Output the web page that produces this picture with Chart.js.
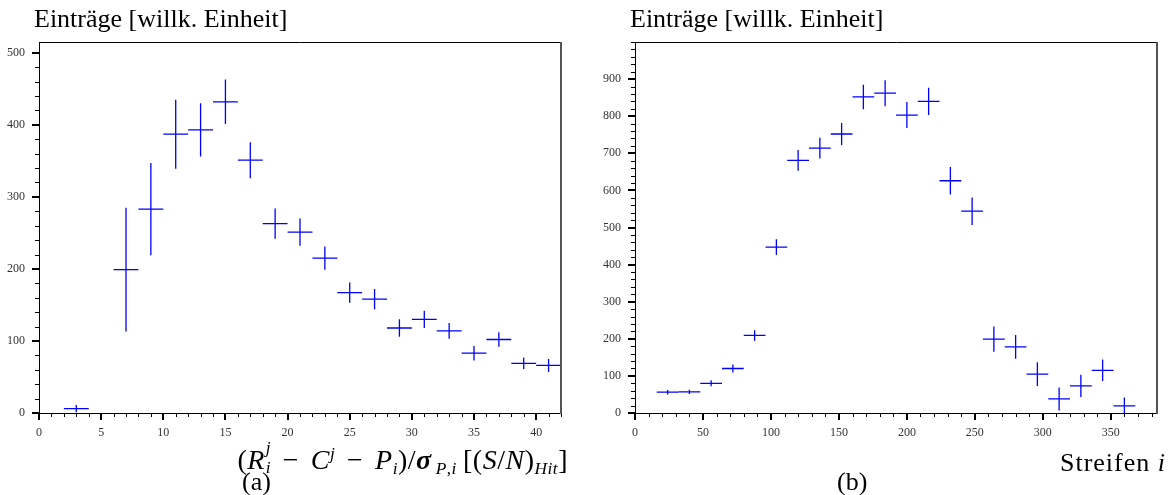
<!DOCTYPE html>
<html lang="de">
<head>
<meta charset="utf-8">
<title>Einträge [willk. Einheit]</title>
<script src="https://cdn.jsdelivr.net/npm/chart.js@4.4.1/dist/chart.umd.min.js"></script>
<style>
  html, body { margin: 0; padding: 0; background: #fff; }
  body {
    width: 1171px; height: 495px; position: relative; overflow: hidden;
    font-family: 'Liberation Serif', 'DejaVu Serif', serif; color: #000;
  }
  canvas { position: absolute; top: 0; }
  #chartA { left: 0; }
  #chartB { left: 590px; }
  .txt { position: absolute; font-size: 26px; line-height: 26px; white-space: nowrap; }
  .math { font-size: 28px; line-height: 28px; letter-spacing: 0.5px; }
  .txt sub, .txt sup { font-size: 62%; line-height: 0; position: relative; vertical-align: baseline; }
  .txt sup { top: -0.6em; }
  .txt sub { top: 0.3em; }
  .ss { display: inline-block; position: relative; width: 0.35em; height: 1em; vertical-align: baseline; font-size: 62%; font-style: italic; }
  .ss span { position: absolute; left: 0.05em; line-height: 1; }
  .ss .up { top: -0.75em; }
  .ss .dn { top: 0.45em; }
  .op { margin: 0 0.42em; }
  .sg { font-weight: bold; }
</style>
</head>
<body>
<canvas id="chartA" width="580" height="495"></canvas>
<canvas id="chartB" width="581" height="495"></canvas>

<div class="txt" style="left:34px; top:6px;">Einträge [willk. Einheit]</div>
<div class="txt" style="left:630px; top:6px;">Einträge [willk. Einheit]</div>

<div class="txt math" style="right:603px; top:446px;">(<i>R</i><span class="ss"><span class="up">j</span><span class="dn">i</span></span><span class="op">−</span><i>C</i><sup><i>j</i></sup><span class="op">−</span><i>P</i><sub><i>i</i></sub>)/<i class="sg">σ</i><sub>&thinsp;<i>P</i>,<i>i</i></sub>&thinsp;[(<i>S</i>/<i>N</i>)<sub><i>Hit</i></sub>]</div>
<div class="txt" style="left:242px; top:469px;">(a)</div>

<div class="txt" style="right:5px; top:450px; letter-spacing:1px;">Streifen <i>i</i></div>
<div class="txt" style="left:837px; top:469px;">(b)</div>

<script>
// (a) residual distribution, bins of width 2
const leftX = [3, 7, 9, 11, 13, 15, 17, 19, 21, 23, 25, 27, 29, 31, 33, 35, 37, 39, 41];
const leftY = [6, 199, 283, 387, 393, 432, 351, 263, 251, 215, 167, 158, 118, 130, 114, 83, 102, 69, 66];
const leftYErr = [5, 86, 64, 48, 37, 31, 25, 21, 19, 16, 14, 14, 12, 12, 11, 10, 10, 8, 9];
const leftBinWidth = 2;
const leftXTicks = [0, 5, 10, 15, 20, 25, 30, 35, 40];
const leftYTicks = [0, 100, 200, 300, 400, 500];

// (b) entries per strip, bins of 16 strips
const rightX = [24, 40, 56, 72, 88, 104, 120, 136, 152, 168, 184, 200, 216, 232, 248, 264, 280, 296, 312, 328, 344, 360];
const rightY = [56, 57, 80, 120, 209, 447, 681, 714, 752, 852, 862, 803, 840, 626, 544, 199, 178, 105, 38, 73, 115, 19];
const rightYErr = [6, 6, 8, 11, 14, 21, 28, 28, 30, 33, 35, 35, 37, 37, 37, 34, 32, 32, 31, 30, 29, 23];
const rightBinWidth = 16;
const rightXTicks = [0, 50, 100, 150, 200, 250, 300, 350];
const rightYTicks = [0, 100, 200, 300, 400, 500, 600, 700, 800, 900];

const BLUE = '#0000ff';
const tickFont = { family: "'Liberation Serif', 'DejaVu Serif', serif", size: 12 };

// horizontal bar = bin width, vertical bar = statistical error
const crossPlugin = {
  id: 'crosses',
  afterDatasetsDraw(chart) {
    const { ctx, chartArea: a, scales: { x, y } } = chart;
    ctx.save();
    ctx.beginPath();
    ctx.rect(a.left, a.top, a.right - a.left, a.bottom - a.top);
    ctx.clip();
    ctx.strokeStyle = BLUE;
    ctx.lineWidth = 1.3;
    chart.data.datasets.forEach(ds => ds.data.forEach(p => {
      const cx = x.getPixelForValue(p.x);
      const cy = y.getPixelForValue(p.y);
      ctx.beginPath();
      ctx.moveTo(x.getPixelForValue(p.x - p.w / 2), cy);
      ctx.lineTo(x.getPixelForValue(p.x + p.w / 2), cy);
      ctx.moveTo(cx, y.getPixelForValue(p.y - p.err));
      ctx.lineTo(cx, y.getPixelForValue(p.y + p.err));
      ctx.stroke();
    }));
    ctx.restore();
  }
};

// box frame plus outward major/minor tick marks
const framePlugin = {
  id: 'frame',
  afterDraw(chart, args, opts) {
    const { ctx, chartArea: a, scales: { x, y } } = chart;
    ctx.save();
    ctx.strokeStyle = '#000';
    ctx.lineWidth = 1;
    ctx.beginPath();
    for (let v = x.min; v <= x.max + 1e-9; v += opts.xMinor) {
      const px = Math.round(x.getPixelForValue(v)) + 0.5;
      ctx.moveTo(px, a.bottom); ctx.lineTo(px, a.bottom + 4);
    }
    for (let v = y.min; v <= y.max + 1e-9; v += opts.yMinor) {
      const py = Math.round(y.getPixelForValue(v)) + 0.5;
      ctx.moveTo(a.left, py); ctx.lineTo(a.left - 4, py);
    }
    ctx.stroke();

    ctx.lineWidth = 2;
    ctx.beginPath();
    x.ticks.forEach(t => {
      const px = Math.round(x.getPixelForValue(t.value));
      ctx.moveTo(px, a.bottom); ctx.lineTo(px, a.bottom + 7);
    });
    y.ticks.forEach(t => {
      const py = Math.round(y.getPixelForValue(t.value));
      ctx.moveTo(a.left, py); ctx.lineTo(a.left - 7, py);
    });
    ctx.stroke();

    ctx.lineWidth = 1;
    ctx.beginPath();
    ctx.moveTo(Math.round(a.left) + 0.5, Math.round(a.top) + 0.5);
    ctx.lineTo(Math.round(a.right), Math.round(a.top) + 0.5);
    ctx.moveTo(Math.round(a.left) + 0.5, Math.round(a.top));
    ctx.lineTo(Math.round(a.left) + 0.5, Math.round(a.bottom) + 0.5);
    ctx.lineTo(Math.round(a.right), Math.round(a.bottom) + 0.5);
    ctx.stroke();
    ctx.strokeStyle = '#555';
    ctx.lineWidth = 2;
    ctx.beginPath();
    ctx.moveTo(Math.round(a.right), Math.round(a.top));
    ctx.lineTo(Math.round(a.right), Math.round(a.bottom) + 1);
    ctx.stroke();
    ctx.restore();
  }
};

function makePoints(xs, ys, errs, w) {
  return xs.map((x, i) => ({ x, y: ys[i], err: errs[i], w }));
}

function makeChart(id, cfg) {
  return new Chart(document.getElementById(id), {
    type: 'scatter',
    data: {
      datasets: [{
        data: makePoints(cfg.xs, cfg.ys, cfg.errs, cfg.binWidth),
        pointRadius: 0,
        pointHoverRadius: 0,
        showLine: false
      }]
    },
    options: {
      responsive: false,
      devicePixelRatio: 1,
      animation: false,
      events: [],
      layout: { padding: { top: 42, right: cfg.padRight, bottom: 52, left: 0 } },
      plugins: {
        legend: { display: false },
        tooltip: { enabled: false },
        frame: { xMinor: cfg.xMinor, yMinor: cfg.yMinor }
      },
      scales: {
        x: {
          type: 'linear',
          position: 'bottom',
          min: cfg.xMin,
          max: cfg.xMax,
          grid: { display: false, drawTicks: false },
          border: { display: false },
          ticks: { font: tickFont, color: '#333', padding: 13, autoSkip: false, maxRotation: 0 },
          afterBuildTicks: s => { s.ticks = cfg.xTicks.map(v => ({ value: v })); },
          afterFit: s => { s.height = 30; }
        },
        y: {
          type: 'linear',
          position: 'left',
          min: 0,
          max: cfg.yMax,
          grid: { display: false, drawTicks: false },
          border: { display: false },
          ticks: { font: tickFont, color: '#333', padding: 14, autoSkip: false },
          afterBuildTicks: s => { s.ticks = cfg.yTicks.map(v => ({ value: v })); },
          afterFit: s => { s.width = cfg.yWidth; }
        }
      }
    },
    plugins: [crossPlugin, framePlugin]
  });
}

makeChart('chartA', {
  xs: leftX, ys: leftY, errs: leftYErr, binWidth: leftBinWidth,
  xTicks: leftXTicks, yTicks: leftYTicks,
  xMin: 0, xMax: 42, yMax: 515, xMinor: 1, yMinor: 20,
  yWidth: 39, padRight: 19
});

makeChart('chartB', {
  xs: rightX, ys: rightY, errs: rightYErr, binWidth: rightBinWidth,
  xTicks: rightXTicks, yTicks: rightYTicks,
  xMin: 0, xMax: 384, yMax: 1000, xMinor: 10, yMinor: 20,
  yWidth: 45, padRight: 14
});
</script>
</body>
</html>
